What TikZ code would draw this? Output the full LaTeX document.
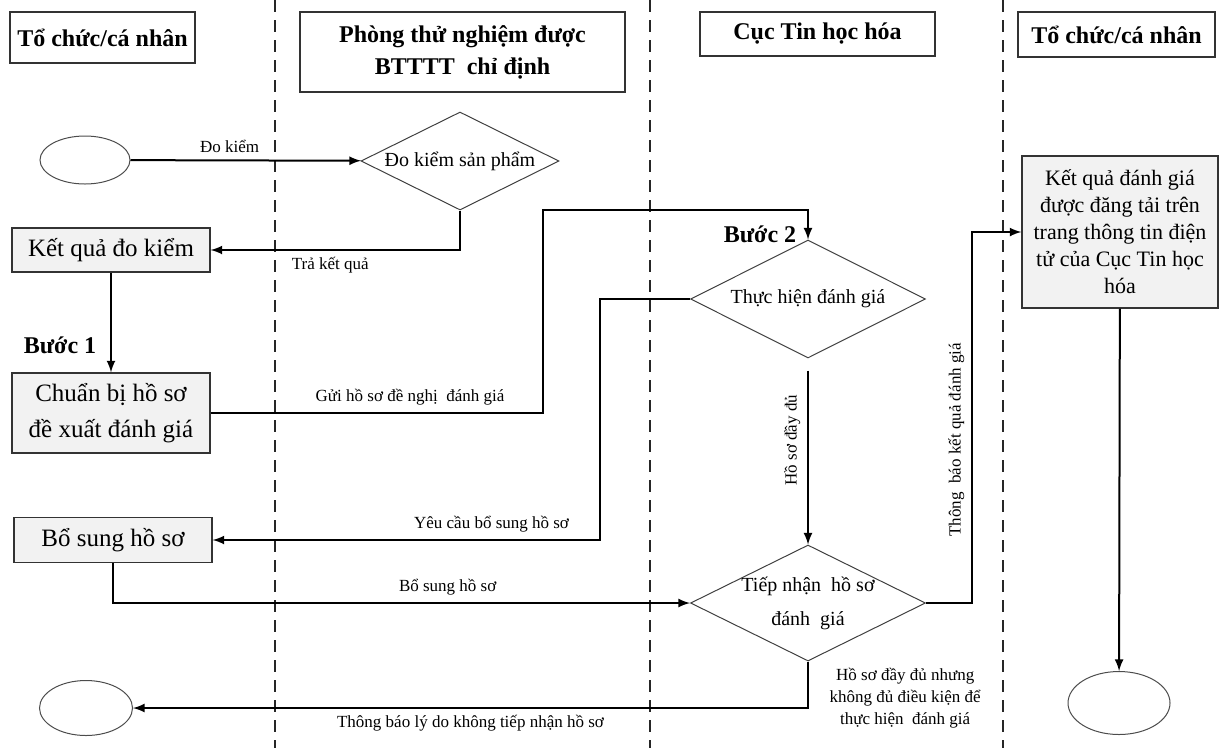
\documentclass[tikz,border=0pt]{standalone}
\usepackage{fontspec}
\setmainfont{Liberation Serif}
\usetikzlibrary{shapes.geometric}
\tikzset{
  lane/.style={draw=black!85, dashed, line width=0.8pt, dash pattern=on 6pt off 4pt},
  head/.style={draw=black!80, line width=0.6pt, font=\fontsize{12}{16}\selectfont\bfseries, align=center},
  box/.style={draw=black!80, fill=gray!10, line width=0.6pt, font=\fontsize{12.5}{18}\selectfont, align=center, minimum width=99pt},
  dia/.style={diamond, aspect=2, draw=black!75, line width=0.5pt, font=\fontsize{10}{17}\selectfont, align=center, inner sep=-2pt},
  oval/.style={ellipse, draw=black!70, line width=0.5pt},
  lbl/.style={font=\fontsize{8.5}{11}\selectfont, align=center},
  flow/.style={->, line width=1pt},
}
\begin{document}
\begin{tikzpicture}[x=0.5pt, y=-0.5pt, >=latex]
        \useasboundingbox (0,0) rectangle (1219,751);
        \draw[lane] (275,0) -- (275,748);
        \draw[lane] (650,0) -- (650,748);
        \draw[lane] (1003,0) -- (1003,748);
        \node[head, minimum width=92.5pt, minimum height=25.5pt] (T1) at (102.5,37.5) {Tổ chức/cá nhân};
        \node[head, minimum width=162.5pt, minimum height=40pt] (T2) at (462.5,52) {Phòng thử nghiệm được\\BTTTT~ chỉ định};
        \node[head, minimum width=117.5pt, minimum height=22pt] (T3) at (817.5,34) {Cục Tin học hóa};
        \node[head, minimum width=98.5pt, minimum height=22.5pt] (T4) at (1116.5,34.5) {Tổ chức/cá nhân};
        \node[oval, minimum width=45pt, minimum height=24pt] (A) at (85,160) {};
        \node[dia, minimum width=99pt, minimum height=49pt] (D) at (460,161) {Đo kiểm sản phẩm};
        \node[box, minimum height=22pt] (B) at (111,250) {Kết quả đo kiểm};
        \node[font=\fontsize{12}{14}\selectfont\bfseries] (S1) at (60,345) {Bước 1};
        \node[box, minimum height=40pt] (C) at (111,413) {Chuẩn bị hồ sơ\\đề xuất đánh giá};
        \node[box, minimum height=22.5pt] (E) at (113,540) {Bổ sung hồ sơ};
        \node[oval, minimum width=46.5pt, minimum height=27.5pt] (F) at (86,708) {};
        \node[font=\fontsize{12}{14}\selectfont\bfseries] (S2) at (760,234) {Bước 2};
        \node[dia, minimum width=117.5pt, minimum height=59pt] (G) at (808,299) {Thực hiện đánh giá};
        \node[dia, minimum width=117.5pt, minimum height=58pt] (H) at (808,603) {Tiếp nhận~ hồ sơ\\đánh~ giá};
        \node[box, font=\fontsize{11}{13.5}\selectfont, minimum width=98pt, minimum height=76pt] (R) at (1120,232) {Kết quả đánh giá\\được đăng tải trên\\trang thông tin điện\\tử của Cục Tin học\\hóa};
        \node[oval, minimum width=51pt, minimum height=31.5pt] (K) at (1119,703) {};
        \draw[flow] (A) -- node[lbl, above, pos=0.43]{Đo kiểm} (D);
        \draw[flow] (D.south) |- node[lbl, below, pos=0.76]{Trả kết quả} (B.east);
        \draw[flow] (B) -- (C);
        \draw[flow] (C.east) -| node[lbl, above, pos=0.3]{Gửi hồ sơ đề nghị~ đánh giá} (543,210) -| (G.north);
        \draw[flow] (G.west) -- ++(-90,0) |- node[lbl, above, pos=0.64]{Yêu cầu bổ sung hồ sơ} (E.east);
        \draw[flow] (E.south) |- node[lbl, above, pos=0.79]{Bổ sung hồ sơ} (H.west);
        \draw[flow] ([yshift=-6pt]G.south) -- node[lbl, rotate=90, above, pos=0.4]{Hồ sơ đầy đủ} (H.north);
        \draw[flow] (H.east) -- ++(46,0) |- node[lbl, rotate=90, above, pos=0.22]{Thông~ báo kết quả đánh giá} (R.west);
        \draw[flow] (H.south) |- node[lbl, below, pos=0.75]{Thông báo lý do không tiếp nhận hồ sơ}
            node[lbl, anchor=west, xshift=7pt, pos=0.39]{Hồ sơ đầy đủ nhưng\\không đủ điều kiện để\\thực hiện~ đánh giá} (F.east);
        \draw[flow] (R) -- (K);
    \end{tikzpicture}
\end{document}
